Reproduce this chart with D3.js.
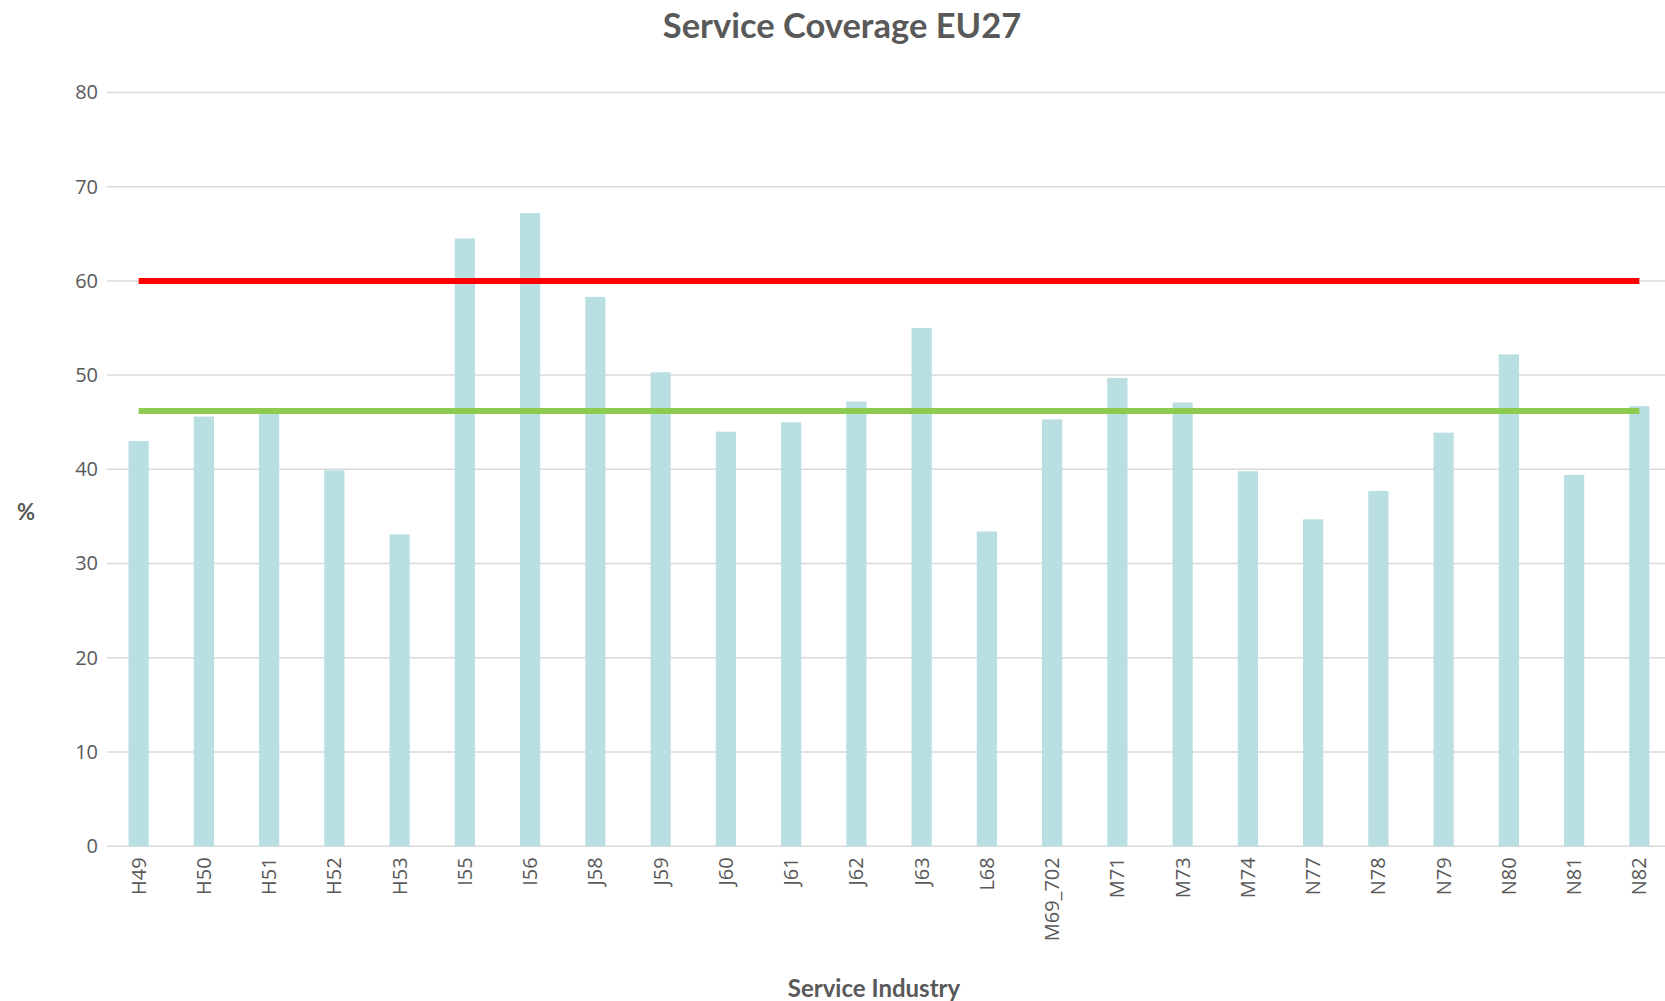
<!DOCTYPE html>
<html>
<head>
<meta charset="utf-8">
<script src="https://cdn.jsdelivr.net/npm/d3@7"></script>
<style>
  html, body { margin: 0; padding: 0; background: #ffffff; }
  svg { display: block; }
</style>
</head>
<body>
<svg id="chart" width="1665" height="1001"></svg>
<script>
// ---- Data ----
const categories = ["H49","H50","H51","H52","H53","I55","I56","J58","J59","J60","J61","J62",
                    "J63","L68","M69_702","M71","M73","M74","N77","N78","N79","N80","N81","N82"];
const coverage = [43.0,45.6,45.9,39.9,33.1,64.5,67.2,58.3,50.3,44.0,45.0,47.2,
                  55.0,33.4,45.3,49.7,47.1,39.8,34.7,37.7,43.9,52.2,39.4,46.7];
const targetLine = [60,60,60,60,60,60,60,60,60,60,60,60,60,60,60,60,60,60,60,60,60,60,60,60];
const averageLine = [46.2,46.2,46.2,46.2,46.2,46.2,46.2,46.2,46.2,46.2,46.2,46.2,
                     46.2,46.2,46.2,46.2,46.2,46.2,46.2,46.2,46.2,46.2,46.2,46.2];
const yTicks = [0,10,20,30,40,50,60,70,80];
const chartTitle = "Service Coverage EU27";
const xTitle = "Service Industry";
const yTitle = "%";

// ---- Layout ----
const W = 1665, H = 1001;
const plot = { left: 106, right: 1672, top: 92.4, bottom: 846.3 };
const gridLeft = 107;

const svg = d3.select("#chart");

const x = d3.scaleBand()
  .domain(categories)
  .range([plot.left, plot.right])
  .paddingInner(0.69)
  .paddingOuter(0.345);

const y = d3.scaleLinear()
  .domain([0, 80])
  .range([plot.bottom, plot.top]);

const textColor = "#595959";

// gridlines
svg.append("g")
  .selectAll("line")
  .data(yTicks)
  .join("line")
  .attr("x1", gridLeft)
  .attr("x2", W)
  .attr("y1", d => y(d))
  .attr("y2", d => y(d))
  .attr("stroke", "#d9d9d9")
  .attr("stroke-width", 1.5);

// y axis labels
const yAxis = d3.axisLeft(y).tickValues(yTicks).tickSize(0).tickPadding(0);
const yG = svg.append("g")
  .attr("transform", `translate(${gridLeft - 9},0)`)
  .call(yAxis);
yG.select(".domain").remove();
yG.selectAll("text")
  .attr("fill", textColor)
  .style("font-family", "'Open Sans', sans-serif")
  .style("font-size", "20px");

// bars
svg.append("g")
  .selectAll("rect")
  .data(coverage)
  .join("rect")
  .attr("x", (d, i) => x(categories[i]))
  .attr("width", x.bandwidth())
  .attr("y", d => y(d))
  .attr("height", d => y(0) - y(d))
  .attr("fill", "#b9dfe3");

// x axis labels
const xAxis = d3.axisBottom(x).tickSize(0).tickPadding(0);
const xG = svg.append("g")
  .attr("transform", `translate(0,${plot.bottom})`)
  .call(xAxis);
xG.select(".domain").remove();
xG.selectAll("text")
  .attr("fill", textColor)
  .style("font-family", "'Open Sans', sans-serif")
  .style("font-size", "20px")
  .attr("transform", "rotate(-90)")
  .attr("text-anchor", "end")
  .attr("x", -11)
  .attr("y", 0)
  .attr("dy", "0.35em");

// lines
const lineGen = d3.line()
  .x((d, i) => x(categories[i]) + x.bandwidth() / 2)
  .y(d => y(d));

svg.append("path")
  .datum(averageLine)
  .attr("d", lineGen)
  .attr("fill", "none")
  .attr("stroke", "#8ccb50")
  .attr("stroke-width", 6);

svg.append("path")
  .datum(targetLine)
  .attr("d", lineGen)
  .attr("fill", "none")
  .attr("stroke", "#ff0000")
  .attr("stroke-width", 6);

// titles
svg.append("text")
  .attr("x", 842)
  .attr("y", 38)
  .attr("text-anchor", "middle")
  .attr("fill", textColor)
  .style("font-family", "Lato, sans-serif")
  .style("font-weight", "bold")
  .style("font-size", "34.5px")
  .text(chartTitle);

svg.append("text")
  .attr("x", 874)
  .attr("y", 997)
  .attr("text-anchor", "middle")
  .attr("fill", textColor)
  .style("font-family", "Lato, sans-serif")
  .style("font-weight", "bold")
  .style("font-size", "24px")
  .text(xTitle);

svg.append("text")
  .attr("x", 26)
  .attr("y", 520)
  .attr("text-anchor", "middle")
  .attr("fill", textColor)
  .style("font-family", "Lato, sans-serif")
  .style("font-weight", "bold")
  .style("font-size", "22px")
  .text(yTitle);
</script>
</body>
</html>
